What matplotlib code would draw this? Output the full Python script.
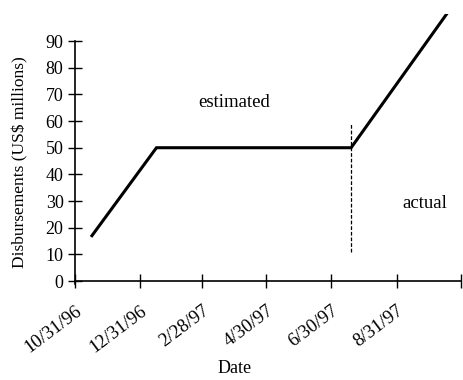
import matplotlib
matplotlib.use("Agg")
import matplotlib.pyplot as plt
import pandas as pd

# Disbursement path (US$ millions)
dates = pd.to_datetime(["1996-11-16", "1997-01-16", "1997-07-19", "1997-10-17"])
disbursements = [17, 50, 50, 100]

# Boundary between estimated and actual figures
split_date = pd.Timestamp("1997-07-19")
split_range = [11, 59]

tick_dates = pd.to_datetime(["1996-10-31", "1996-12-31", "1997-02-28", "1997-04-30",
                             "1997-06-30", "1997-08-31", "1997-10-31"])
tick_labels = ["10/31/96", "12/31/96", "2/28/97", "4/30/97", "6/30/97", "8/31/97", ""]
y_ticks = [0, 10, 20, 30, 40, 50, 60, 70, 80, 90]

plt.rcParams["font.family"] = ["Liberation Serif", "DejaVu Serif"]

fig = plt.figure(figsize=(4.63, 3.80), dpi=100)
ax = fig.add_axes([0.162, 0.2605, 0.834, 0.7015])

ax.plot(dates, disbursements, color="black", lw=2.2, solid_joinstyle="miter")
ax.plot([split_date, split_date], split_range, color="black", lw=0.9,
        linestyle=(0, (3, 1.5)))

ax.text(pd.Timestamp("1997-03-30"), 67, "estimated", ha="center", va="center", fontsize=13.5)
ax.text(pd.Timestamp("1997-09-27"), 29, "actual", ha="center", va="center", fontsize=13.5)

ax.set_xlim(tick_dates[0], tick_dates[-1])
ax.set_ylim(0, 100)

for s in ["top", "right"]:
    ax.spines[s].set_visible(False)
ax.spines["left"].set_bounds(-1, 90)
ax.spines["left"].set_linewidth(1.2)
ax.spines["bottom"].set_linewidth(1.2)
ax.set_clip_on(False)

ax.tick_params(axis="both", direction="inout", length=10.5, width=1.0, color="black")
ax.tick_params(axis="y", pad=3)
ax.tick_params(axis="x", pad=10)

ax.set_xticks(tick_dates)
ax.set_xticklabels(tick_labels, rotation=37, ha="right", va="top",
                   rotation_mode="anchor", fontsize=13.5)
ax.set_yticks(y_ticks)
ax.set_yticklabels([str(v) for v in y_ticks], fontsize=13)

ax.set_ylabel("Disbursements (US$ millions)", fontsize=12.5)
ax.yaxis.set_label_coords(-0.122, 0.445)
ax.set_xlabel("Date", fontsize=13)
ax.xaxis.set_label_coords(0.412, -0.295)

fig.savefig("out.png", dpi=100)
